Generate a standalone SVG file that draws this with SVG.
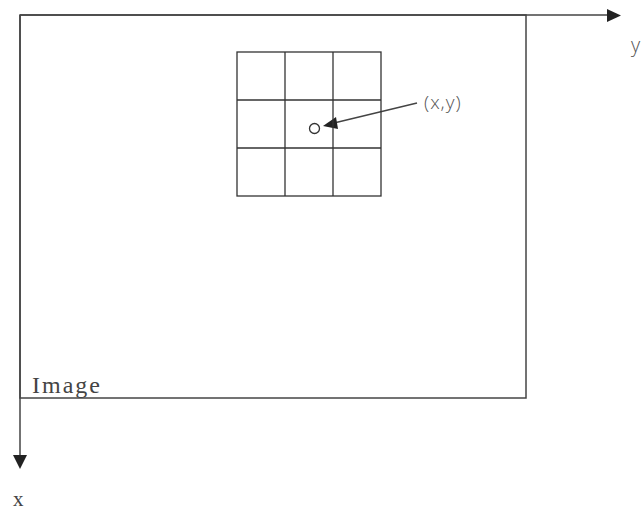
<svg xmlns="http://www.w3.org/2000/svg" width="644" height="512" viewBox="0 0 644 512">
<style>
.ln{stroke:#444;stroke-width:1.5;fill:none}
.gr{stroke:#333;stroke-width:1.3;fill:none}
.sans{font-family:"Open Sans","DejaVu Sans",sans-serif;font-weight:300;fill:#555}
.serif{font-family:"Liberation Serif","DejaVu Serif",serif;fill:#444}
</style>
<rect width="644" height="512" fill="#fff"/>
<g id="image">
<rect class="ln" x="20" y="15" width="506" height="383"/>
<text class="serif" x="32" y="393" font-size="24" letter-spacing="2">Image</text>
</g>
<g id="connectors">
<line class="ln" x1="20" y1="15" x2="607" y2="15"/>
<path d="M607,9 L621,15.5 L607,22 Z" fill="#222"/>
<line class="ln" x1="20" y1="15" x2="20" y2="455"/>
<path d="M13,455 L20,469 L27,455 Z" fill="#222"/>
<line class="ln" x1="417" y1="103" x2="334" y2="123"/>
<path d="M336,117 L323,126 L338,129 Z" fill="#222"/>
</g>
<g id="grid">
<rect class="gr" x="237" y="52" width="144" height="144"/>
<line class="gr" x1="285" y1="52" x2="285" y2="196"/>
<line class="gr" x1="333" y1="52" x2="333" y2="196"/>
<line class="gr" x1="237" y1="100" x2="381" y2="100"/>
<line class="gr" x1="237" y1="148" x2="381" y2="148"/>
<circle cx="314.5" cy="128.5" r="5" fill="#fff" stroke="#333" stroke-width="1.3"/>
</g>
<g id="labels">
<text class="sans" x="424" y="109" font-size="19" letter-spacing="1">(x,y)</text>
<text class="sans" x="631" y="52" font-size="20">y</text>
<text class="serif" x="13" y="506" font-size="21">x</text>
</g>
</svg>
